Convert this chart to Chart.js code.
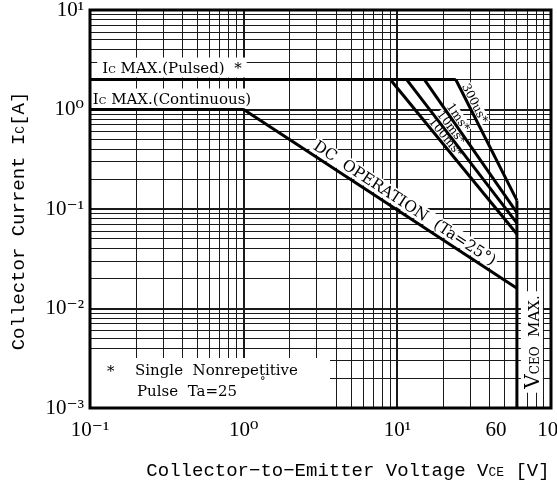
<!DOCTYPE html>
<html>
<head>
<meta charset="utf-8">
<script src="https://cdn.jsdelivr.net/npm/chart.js@4.4.0/dist/chart.umd.min.js"></script>
<style>
  html, body { margin: 0; padding: 0; background: #fff; }
</style>
</head>
<body>
<canvas id="soaChart" width="557" height="484"></canvas>
<script>
// Safe operating area

// axis ticks
const xTicks = [0.1, 1, 10, 60, 100];
const xTickLabels = ['10⁻¹', '10⁰', '10¹', '60', '10²'];
const yTicks = [0.001, 0.01, 0.1, 1, 10];
const yTickLabels = ['10⁻³', '10⁻²', '10⁻¹', '10⁰', '10¹'];

// limits
const icPulsedMax = 2;     // A
const icContMax = 1;       // A
const vceoMax = 60;        // V

// DC operation line
const dcStartV = 1;
const dcEndI = 0.016;

// single pulse lines
const pulseNames = ['100ms*', '10ms*', '1ms*', '300us*'];
const pulseStartV = [9, 11.5, 15, 24];
const pulseEndI = [0.056, 0.072, 0.092, 0.122];

const SERIF = "'DejaVu Serif', serif";
const MONO = "'Liberation Mono', monospace";
const TICK_FONT = "'Liberation Serif', 'DejaVu Serif', serif";

// grid lines: 1..9 per decade
function logGrid(min, max) {
    const out = [];
    for (let e = Math.round(Math.log10(min)); e < Math.round(Math.log10(max)); e++) {
        for (let m = 1; m <= 9; m++) out.push(+(m * Math.pow(10, e)).toPrecision(6));
    }
    out.push(max);
    return out;
}

function isDecade(v) {
    const l = Math.log10(v);
    return Math.abs(l - Math.round(l)) < 1e-6;
}

function tickLabel(ticks, labels, v) {
    const i = ticks.findIndex(t => Math.abs(t - v) < t * 1e-6);
    return i < 0 ? '' : labels[i];
}

// build datasets
const datasets = [];
function addLine(points) {
    datasets.push({
        data: points,
        showLine: true,
        borderColor: '#000',
        borderWidth: 3,
        pointRadius: 0,
        fill: false
    });
}
addLine([{ x: 0.1, y: icPulsedMax }, { x: pulseStartV[pulseStartV.length - 1], y: icPulsedMax }]);
addLine([{ x: 0.1, y: icContMax }, { x: dcStartV, y: icContMax }]);
addLine([{ x: dcStartV, y: icContMax }, { x: vceoMax, y: dcEndI }]);
pulseStartV.forEach((v, i) => {
    addLine([{ x: v, y: icPulsedMax }, { x: vceoMax, y: pulseEndI[i] }]);
});
addLine([{ x: vceoMax, y: Math.max(...pulseEndI) }, { x: vceoMax, y: 0.001 }]);

/**
 * Rich text helpers (mixed font sizes, optional rotation)
 */
function partsWidth(ctx, parts) {
    let w = 0;
    parts.forEach(p => { ctx.font = p[1]; w += ctx.measureText(p[0]).width; });
    return w;
}

function drawLabel(ctx, lab, background) {
    ctx.save();
    ctx.translate(lab.cx, lab.cy);
    ctx.rotate(lab.angle || 0);
    const w = partsWidth(ctx, lab.parts);
    if (background) {
        ctx.fillStyle = '#fff';
        ctx.fillRect(-w / 2 - lab.padX, -lab.h / 2, w + 2 * lab.padX, lab.h);
    } else {
        ctx.fillStyle = '#000';
        ctx.textAlign = 'left';
        ctx.textBaseline = 'alphabetic';
        let x = -w / 2;
        lab.parts.forEach(p => {
            ctx.font = p[1];
            ctx.fillText(p[0], x, lab.base + (p[2] || 0));
            x += ctx.measureText(p[0]).width;
        });
    }
    ctx.restore();
}

// point on a line between two data points, pushed off to its upper-right side
function alongLine(chart, v0, i0, v1, i1, t, off) {
    const xs = chart.scales.x, ys = chart.scales.y;
    const x0 = xs.getPixelForValue(v0), y0 = ys.getPixelForValue(i0);
    const x1 = xs.getPixelForValue(v1), y1 = ys.getPixelForValue(i1);
    const ang = Math.atan2(y1 - y0, x1 - x0);
    return {
        cx: x0 + t * (x1 - x0) + off * Math.sin(ang),
        cy: y0 + t * (y1 - y0) - off * Math.cos(ang),
        angle: ang
    };
}

function buildLabels(chart) {
    const xs = chart.scales.x, ys = chart.scales.y, a = chart.chartArea;
    const f = s => s + 'px ' + SERIF;
    const labs = [];
    const yP = ys.getPixelForValue(icPulsedMax);
    const yC = ys.getPixelForValue(icContMax);

    labs.push({ parts: [['I', f(15)], ['C', f(10)], [' MAX.(Pulsed)  *', f(15)]],
        cx: a.left + 82, cy: yP - 12, h: 20, padX: 5, base: 5 });
    labs.push({ parts: [['I', f(15)], ['C', f(10)], [' MAX.(Continuous)', f(15)]],
        cx: a.left + 82, cy: yC - 11, h: 20, padX: 3, base: 5 });

    const dc = alongLine(chart, dcStartV, icContMax, vceoMax, dcEndI, 0.57, 10);
    labs.push(Object.assign({ parts: [['DC  OPERATION  (Ta=25°)', f(15.5)]], h: 16, padX: 2, base: 5 }, dc));

    const tPos = [0.4, 0.36, 0.31, 0.22];
    pulseNames.forEach((name, i) => {
        const p = alongLine(chart, pulseStartV[i], icPulsedMax, vceoMax, pulseEndI[i], tPos[i], 6.5);
        labs.push(Object.assign({ parts: [[name, f(12)]], h: 11, padX: 1, base: 4 }, p));
    });

    labs.push({ parts: [['V', f(20)], ['CEO', f(12)], ['  MAX.', f(15)]],
        cx: xs.getPixelForValue(vceoMax) + 15, cy: a.top + 332, angle: -Math.PI / 2,
        h: 22, padX: 4, base: 7 });
    return labs;
}

const soaLabels = {
    id: 'soaLabels',
    beforeDatasetsDraw(chart) {
        const ctx = chart.ctx, a = chart.chartArea;
        buildLabels(chart).forEach(l => drawLabel(ctx, l, true));
        // note box
        ctx.save();
        ctx.fillStyle = '#fff';
        ctx.fillRect(a.left, a.bottom - 50, 240, 50);
        ctx.restore();
    },
    afterDatasetsDraw(chart) {
        const ctx = chart.ctx, a = chart.chartArea;
        buildLabels(chart).forEach(l => drawLabel(ctx, l, false));

        // note text
        ctx.save();
        ctx.fillStyle = '#000';
        ctx.textBaseline = 'middle';
        ctx.textAlign = 'left';
        ctx.font = '15px ' + SERIF;
        ctx.fillText('*', a.left + 17, a.bottom - 36);
        ctx.fillText('Single  Nonrepetitive', a.left + 45, a.bottom - 37);
        ctx.fillText('Pulse  Ta=25', a.left + 47, a.bottom - 16);
        ctx.font = '11px ' + SERIF;
        ctx.fillText('°', a.left + 170, a.bottom - 26);
        ctx.restore();

        // frame
        ctx.save();
        ctx.lineWidth = 3;
        ctx.strokeStyle = '#000';
        ctx.strokeRect(a.left, a.top, a.right - a.left, a.bottom - a.top);
        ctx.restore();

        // axis titles
        drawLabel(ctx, {
            parts: [['Collector−to−Emitter Voltage V', '19px ' + MONO], ['CE', '13px ' + MONO], [' [V]', '19px ' + MONO]],
            cx: 348, cy: chart.height - 14, h: 0, padX: 0, base: 6
        }, false);
        drawLabel(ctx, {
            parts: [['Collector Current I', '19px ' + MONO], ['C', '13px ' + MONO], ['[A]', '19px ' + MONO]],
            cx: 18, cy: 221, angle: -Math.PI / 2, h: 0, padX: 0, base: 6
        }, false);
    }
};

const gridX = logGrid(0.1, 100);
const gridY = logGrid(0.001, 10);

new Chart(document.getElementById('soaChart').getContext('2d'), {
    type: 'scatter',
    data: { datasets: datasets },
    options: {
        responsive: false,
        animation: false,
        layout: { padding: { top: 10, right: 6, left: 0, bottom: 0 } },
        plugins: {
            legend: { display: false },
            tooltip: { enabled: false }
        },
        scales: {
            x: {
                type: 'logarithmic',
                min: 0.1,
                max: 100,
                afterBuildTicks: s => { s.ticks = gridX.map(v => ({ value: v })); },
                afterFit: s => { s.height = 76; s.paddingLeft = 0; s.paddingRight = 0; },
                border: { display: false },
                grid: {
                    color: '#1a1a1a',
                    lineWidth: c => (c.tick && isDecade(c.tick.value)) ? 2 : 1,
                    drawTicks: false
                },
                ticks: {
                    autoSkip: false,
                    maxRotation: 0,
                    padding: 10,
                    color: '#000',
                    font: { family: TICK_FONT, size: 21 },
                    callback: v => {
                        const lbl = tickLabel(xTicks, xTickLabels, v);
                        return v === vceoMax ? lbl + '\u2002\u2002\u2002\u2002' : lbl;
                    }
                }
            },
            y: {
                type: 'logarithmic',
                min: 0.001,
                max: 10,
                afterBuildTicks: s => { s.ticks = gridY.map(v => ({ value: v })); },
                afterFit: s => { s.width = 90; s.paddingTop = 0; s.paddingBottom = 0; },
                border: { display: false },
                grid: {
                    color: '#1a1a1a',
                    lineWidth: c => (c.tick && isDecade(c.tick.value)) ? 2 : 1,
                    drawTicks: false
                },
                ticks: {
                    autoSkip: false,
                    padding: 6,
                    color: '#000',
                    font: { family: TICK_FONT, size: 21 },
                    callback: v => tickLabel(yTicks, yTickLabels, v)
                }
            }
        }
    },
    plugins: [soaLabels]
});
</script>
</body>
</html>
